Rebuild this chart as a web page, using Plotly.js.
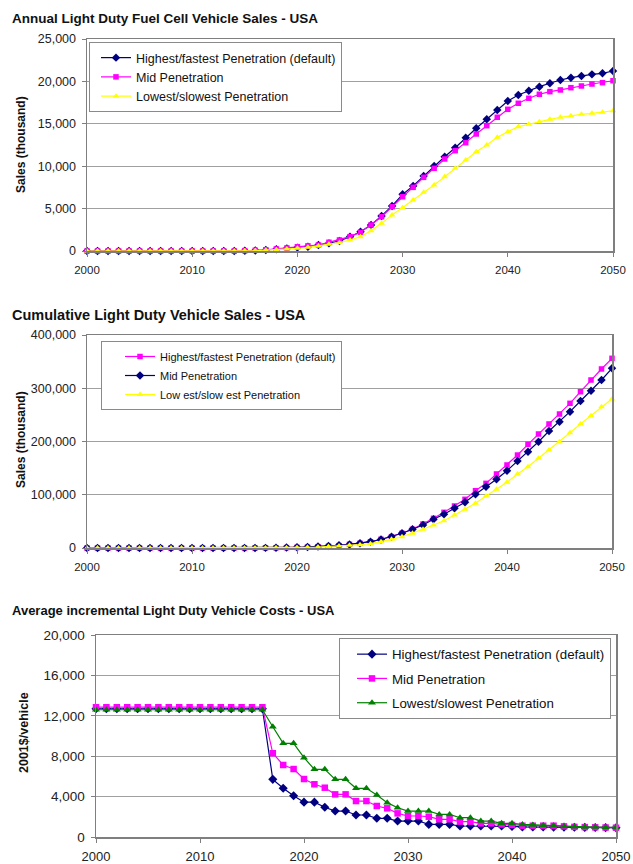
<!DOCTYPE html>
<html>
<head>
<meta charset="utf-8">
<script src="https://cdn.plot.ly/plotly-3.0.1.min.js"></script>
<style>html,body{margin:0;padding:0;background:#fff}#chart{width:633px;height:864px}</style>
</head>
<body>
<div id="chart"></div>
<script>
// ---------------- DATA ----------------
const years = [2000,2001,2002,2003,2004,2005,2006,2007,2008,2009,2010,2011,2012,2013,2014,2015,2016,2017,2018,2019,2020,2021,2022,2023,2024,2025,2026,2027,2028,2029,2030,2031,2032,2033,2034,2035,2036,2037,2038,2039,2040,2041,2042,2043,2044,2045,2046,2047,2048,2049,2050];
const xTicks = [2000,2010,2020,2030,2040,2050];

const seriesNames = ["Highest/fastest Penetration (default)", "Mid Penetration", "Lowest/slowest Penetration"];
const seriesNamesCum = ["Highest/fastest Penetration (default)", "Mid Penetration", "Low est/slow est Penetration"];

// Chart 1: Annual light duty fuel cell vehicle sales (thousand)
const annualHighest = [0,0,0,0,0,0,0,0,0,0,0,0,0,0,0,30,60,120,200,300,400,500,700,900,1180,1690,2280,3070,4130,5310,6680,7660,8840,10020,11120,12180,13360,14470,15530,16630,17690,18400,18900,19380,19780,20170,20440,20640,20830,20950,21230];
const annualMid = [0,0,0,0,0,0,0,0,0,0,0,0,0,0,0,40,80,150,240,350,500,600,700,1030,1300,1690,2200,3070,4040,5220,6400,7510,8690,9750,10850,11830,12770,13800,14780,15770,16710,17420,18010,18480,18790,18990,19260,19460,19690,19850,20080];
const annualLowest = [0,0,0,0,0,0,0,0,0,0,0,0,0,0,0,20,50,100,160,240,320,430,590,790,980,1300,1690,2400,3260,4250,5110,6010,6920,7780,8760,9750,10730,11710,12500,13400,14070,14660,14940,15250,15530,15770,15960,16120,16230,16350,16540];

// Chart 2: Cumulative light duty vehicle sales (thousand)
const cumHighest = [0,0,0,0,0,0,0,0,0,0,0,0,0,0,0,30,90,210,410,710,1110,1600,2300,3200,4400,6900,8800,11800,16300,21300,27600,35100,45100,55700,67000,78900,91400,107600,121400,139000,155900,174600,194700,214100,232900,251600,271700,293500,315500,336200,356200];
const cumMid = [0,0,0,0,0,0,0,0,0,0,0,0,0,0,0,40,120,270,510,860,1360,1960,2660,3690,4990,6680,8880,11950,15990,21210,27600,35100,43200,53900,63300,74500,85800,100800,115100,129000,145200,163400,180800,199600,219700,237200,256000,276100,295400,315500,337500];
const cumLowest = [0,0,0,0,0,0,0,0,0,0,0,0,0,0,0,20,70,170,330,570,890,1320,1910,2700,3680,4980,6200,8100,11800,16300,21200,27600,35100,43200,51300,62000,72700,83900,97700,110200,123400,139000,152700,168400,184000,199600,216500,232900,248500,265400,279800];

// Chart 3: Average incremental light duty vehicle costs (2001$/vehicle)
const costHighest = [12700,12700,12700,12700,12700,12700,12700,12700,12700,12700,12700,12700,12700,12700,12700,12700,12700,5710,4820,4090,3450,3450,2940,2570,2570,2180,2180,1850,1850,1580,1580,1580,1250,1250,1250,1090,1090,1090,1090,1090,1050,1000,1000,1000,980,980,960,950,940,930,920];
const costMid = [12850,12850,12850,12850,12850,12850,12850,12850,12850,12850,12850,12850,12850,12850,12850,12850,12850,8290,7130,6730,5740,5220,4880,4220,4220,3560,3560,3070,2840,2340,2080,2080,2010,1750,1750,1520,1520,1350,1350,1250,1190,1120,1120,1120,1120,1050,1000,980,960,940,920];
const costLowest = [12600,12600,12600,12600,12600,12600,12600,12600,12600,12600,12600,12600,12600,12600,12600,12600,12600,10920,9270,9270,7850,6700,6700,5710,5710,4820,4820,4160,3400,2900,2570,2570,2570,2240,2240,1910,1910,1580,1580,1350,1350,1250,1200,1150,1120,1050,1020,1000,980,960,950];

const titles = ["Annual Light Duty Fuel Cell Vehicle Sales - USA", "Cumulative Light Duty Vehicle Sales - USA", "Average incremental Light Duty Vehicle Costs - USA"];
const yTitles = ["Sales (thousand)", "Sales (thousand)", "2001$/vehicle"];

// ---------------- STYLE ----------------
const NAVY = "#000080", MAG = "#FF00FF", YEL = "#FFFF00", GRN = "#008000";
const FONT = "Liberation Sans, Arial, sans-serif";
const W = 633, H = 864;
const px = v => v / W;
const py = v => 1 - v / H;

function tr(y, name, color, symbol, xa, ya, leg, size, grp) {
  return {
    x: years, y: y, name: name, type: "scatter", mode: "lines+markers",
    xaxis: xa, yaxis: ya, legend: leg, legendgroup: grp, cliponaxis: false,
    line: {color: color, width: 1.2},
    marker: {color: color, symbol: symbol, size: size}
  };
}

const data = [
  tr(annualHighest, seriesNames[0], NAVY, "diamond", "x", "y", "legend", 6.5, "a1"),
  tr(annualMid, seriesNames[1], MAG, "square", "x", "y", "legend", 5.5, "a2"),
  tr(annualLowest, seriesNames[2], YEL, "triangle-up", "x", "y", "legend", 6, "a3"),
  tr(cumHighest, seriesNamesCum[0], MAG, "square", "x2", "y2", "legend2", 5.5, "b1"),
  tr(cumMid, seriesNamesCum[1], NAVY, "diamond", "x2", "y2", "legend2", 6.5, "b2"),
  tr(cumLowest, seriesNamesCum[2], YEL, "triangle-up", "x2", "y2", "legend2", 6, "b3"),
  tr(costHighest, seriesNames[0], NAVY, "diamond", "x3", "y3", "legend3", 7, "c1"),
  tr(costMid, seriesNames[1], MAG, "square", "x3", "y3", "legend3", 6.5, "c2"),
  tr(costLowest, seriesNames[2], GRN, "triangle-up", "x3", "y3", "legend3", 7, "c3")
];

function xax(d, anchor, fs, standoff) {
  return {
    domain: d, anchor: anchor, range: [2000, 2050], tickvals: xTicks,
    showgrid: false, zeroline: false, showline: true, mirror: true,
    linecolor: "#7f7f7f", linewidth: 1.5, ticks: "outside", ticklen: 4,
    tickcolor: "#7f7f7f", tickfont: {family: FONT, size: fs, color: "#222"},
    ticklabelstandoff: standoff, fixedrange: true
  };
}
function yax(d, anchor, range, dtick, fs) {
  return {
    domain: d, anchor: anchor, range: range, dtick: dtick, tick0: 0,
    tickformat: ",d", showgrid: true, gridcolor: "#a0a0a0", gridwidth: 1,
    zeroline: false, showline: true, mirror: true,
    linecolor: "#7f7f7f", linewidth: 1.5, ticks: "outside", ticklen: 4,
    tickcolor: "#7f7f7f", tickfont: {family: FONT, size: fs, color: "#222"},
    ticklabelstandoff: 3, fixedrange: true
  };
}
function leg(x, y, fs, indent, gap) {
  return {
    x: px(x), y: py(y), xanchor: "left", yanchor: "top",
    bgcolor: "#fff", bordercolor: "#8a8a8a", borderwidth: 1,
    font: {family: FONT, size: fs, color: "#111"},
    itemwidth: 30, indentation: indent, tracegroupgap: gap
  };
}

const layout = {
  width: W, height: H, margin: {l: 0, r: 0, t: 0, b: 0},
  paper_bgcolor: "#fff", plot_bgcolor: "#fff", showlegend: true,
  font: {family: FONT, color: "#111"},
  xaxis: xax([px(87), px(613)], "y", 11.5, 4),
  yaxis: yax([py(251), py(39)], "x", [0, 25000], 5000, 12.5),
  xaxis2: xax([px(87), px(612)], "y2", 11.5, 4),
  yaxis2: yax([py(548), py(335)], "x2", [0, 400000], 100000, 12.5),
  xaxis3: xax([px(96), px(616)], "y3", 13, 3),
  yaxis3: yax([py(837), py(635)], "x3", [0, 20000], 4000, 13.5),
  legend: leg(89, 42, 12.5, 6, 0),
  legend2: leg(101, 341, 11, 18, 0),
  legend3: leg(339, 638, 13.3, 12, 4),
  annotations: [
    {text: "<b>" + titles[0] + "</b>", xref: "paper", yref: "paper", x: px(10), y: py(19), xanchor: "left", yanchor: "middle", showarrow: false, font: {family: FONT, size: 13.5, color: "#111"}},
    {text: "<b>" + titles[1] + "</b>", xref: "paper", yref: "paper", x: px(10), y: py(315), xanchor: "left", yanchor: "middle", showarrow: false, font: {family: FONT, size: 14.5, color: "#111"}},
    {text: "<b>" + titles[2] + "</b>", xref: "paper", yref: "paper", x: px(10), y: py(610), xanchor: "left", yanchor: "middle", showarrow: false, font: {family: FONT, size: 13, color: "#111"}},
    {text: "<b>" + yTitles[0] + "</b>", xref: "paper", yref: "paper", x: px(21), y: py(145), xanchor: "center", yanchor: "middle", textangle: -90, showarrow: false, font: {family: FONT, size: 12, color: "#111"}},
    {text: "<b>" + yTitles[1] + "</b>", xref: "paper", yref: "paper", x: px(21), y: py(440), xanchor: "center", yanchor: "middle", textangle: -90, showarrow: false, font: {family: FONT, size: 12, color: "#111"}},
    {text: "<b>" + yTitles[2] + "</b>", xref: "paper", yref: "paper", x: px(24), y: py(733), xanchor: "center", yanchor: "middle", textangle: -90, showarrow: false, font: {family: FONT, size: 12.5, color: "#111"}}
  ]
};

Plotly.newPlot("chart", data, layout, {staticPlot: true, displayModeBar: false});
</script>
</body>
</html>
